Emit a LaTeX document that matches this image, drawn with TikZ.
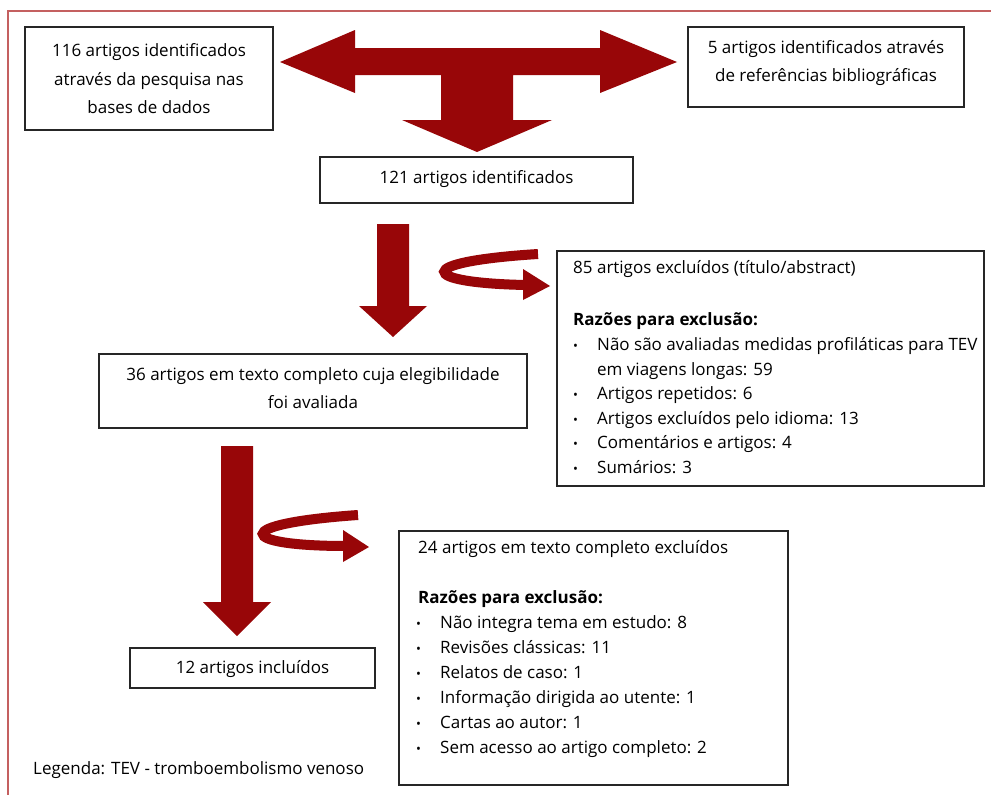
\documentclass[tikz,border=0pt]{standalone}
\usepackage{fontspec}
\setmainfont{Open Sans}
\definecolor{arrowred}{RGB}{152,6,8}
\definecolor{framered}{RGB}{196,96,96}
\begin{document}
\begin{tikzpicture}[x=1pt,y=-1pt,
  box/.style={draw=black!85, line width=1.3pt, inner sep=0pt},
  btxt/.style={inner sep=0pt, align=center, font=\fontsize{17}{28.5}\selectfont},
  line/.style={inner sep=0pt, anchor=mid west, font=\fontsize{17}{20}\selectfont},
  bold/.style={inner sep=0pt, anchor=mid west, font=\fontsize{17}{20}\selectfont\bfseries},
  bul/.style={inner sep=0pt, anchor=mid west, font=\fontsize{13}{13}\selectfont},
  redarrow/.style={fill=arrowred, draw=none}
]
\useasboundingbox (0,0) rectangle (991,795);
\fill[white] (0,0) rectangle (991,795);
\draw[framered, line width=1.5pt] (991,11) -- (8,11) -- (8,795);

% boxes
\node[box, minimum width=248pt, minimum height=103pt] (src1) at (149,78.5) {};
\node[btxt] (src1t) at (149,79) {116 artigos identificados\\através da pesquisa nas\\bases de dados};
\node[box, minimum width=276pt, minimum height=80pt] (src2) at (826,67) {};
\node[btxt] (src2t) at (826,63) {5 artigos identificados através\\de referências bibliográficas};
\node[box, minimum width=313pt, minimum height=46pt] (all) at (476.5,180) {};
\node[btxt] (allt) at (476.5,179) {121 artigos identificados};
\node[box, minimum width=428pt, minimum height=74pt] (elig) at (313,391) {};
\node[btxt] (eligt) at (313,388) {36 artigos em texto completo cuja elegibilidade\\foi avaliada};
\node[box, minimum width=245pt, minimum height=40pt] (incl) at (252.5,668) {};
\node[btxt] (inclt) at (252.5,669) {12 artigos incluídos};
\node[box, minimum width=427pt, minimum height=235pt] (ex1) at (770.5,368.5) {};
\node[box, minimum width=389pt, minimum height=254pt] (ex2) at (593.5,658) {};

% exclusion box 1 text
\node[line] (e1h) at (573,271) {85 artigos excluídos (título/abstract)};
\node[bold] (e1r) at (573,323) {Razões para exclusão:};
\node[bul] (e1b1) at (573,348) {•};
\node[line] (e1l1) at (597,348) {Não são avaliadas medidas profiláticas para TEV};
\node[line] (e1l1b) at (597,372.5) {em viagens longas: 59};
\node[bul] (e1b2) at (573,397) {•};
\node[line] (e1l2) at (597,397) {Artigos repetidos: 6};
\node[bul] (e1b3) at (573,421.5) {•};
\node[line] (e1l3) at (597,421.5) {Artigos excluídos pelo idioma: 13};
\node[bul] (e1b4) at (573,446) {•};
\node[line] (e1l4) at (597,446) {Comentários e artigos: 4};
\node[bul] (e1b5) at (573,470.5) {•};
\node[line] (e1l5) at (597,470.5) {Sumários: 3};

% exclusion box 2 text
\node[line] (e2h) at (418,551) {24 artigos em texto completo excluídos};
\node[bold] (e2r) at (418,601) {Razões para exclusão:};
\node[bul] (e2b1) at (416,626) {•};
\node[line] (e2l1) at (440,626) {Não integra tema em estudo: 8};
\node[bul] (e2b2) at (416,651) {•};
\node[line] (e2l2) at (440,651) {Revisões clássicas: 11};
\node[bul] (e2b3) at (416,676) {•};
\node[line] (e2l3) at (440,676) {Relatos de caso: 1};
\node[bul] (e2b4) at (416,701) {•};
\node[line] (e2l4) at (440,701) {Informação dirigida ao utente: 1};
\node[bul] (e2b5) at (416,726) {•};
\node[line] (e2l5) at (440,726) {Cartas ao autor: 1};
\node[bul] (e2b6) at (416,751) {•};
\node[line] (e2l6) at (440,751) {Sem acesso ao artigo completo: 2};

\node[line] (leg) at (33,772) {Legenda: TEV - tromboembolismo venoso};

% block arrows
\fill[redarrow] (280,62) -- (355,30) -- (355,48) -- (600,48) -- (600,30) -- (677,62)
  -- (600,93) -- (600,75) -- (513,75) -- (513,120) -- (552,120) -- (477,152)
  -- (402,120) -- (441,120) -- (441,75) -- (355,75) -- (355,93) -- cycle;
\fill[redarrow] (377,224) -- (409,224) -- (409,306) -- (427,306) -- (393,337) -- (359,306) -- (377,306) -- cycle;
\fill[redarrow] (221,446) -- (253,446) -- (253,602) -- (271,602) -- (237,636) -- (203,602) -- (221,602) -- cycle;

% curved arrows
\draw[arrowred, line width=10pt] (538,254) .. controls (410,262) and (420,283) .. (526,285);
\fill[redarrow] (523,269) -- (550,286) -- (523,300) -- cycle;
\draw[arrowred, line width=10pt] (358,515) .. controls (228,524) and (238,546) .. (346,546);
\fill[redarrow] (343,530) -- (369,547) -- (343,562) -- cycle;
\end{tikzpicture}
\end{document}
